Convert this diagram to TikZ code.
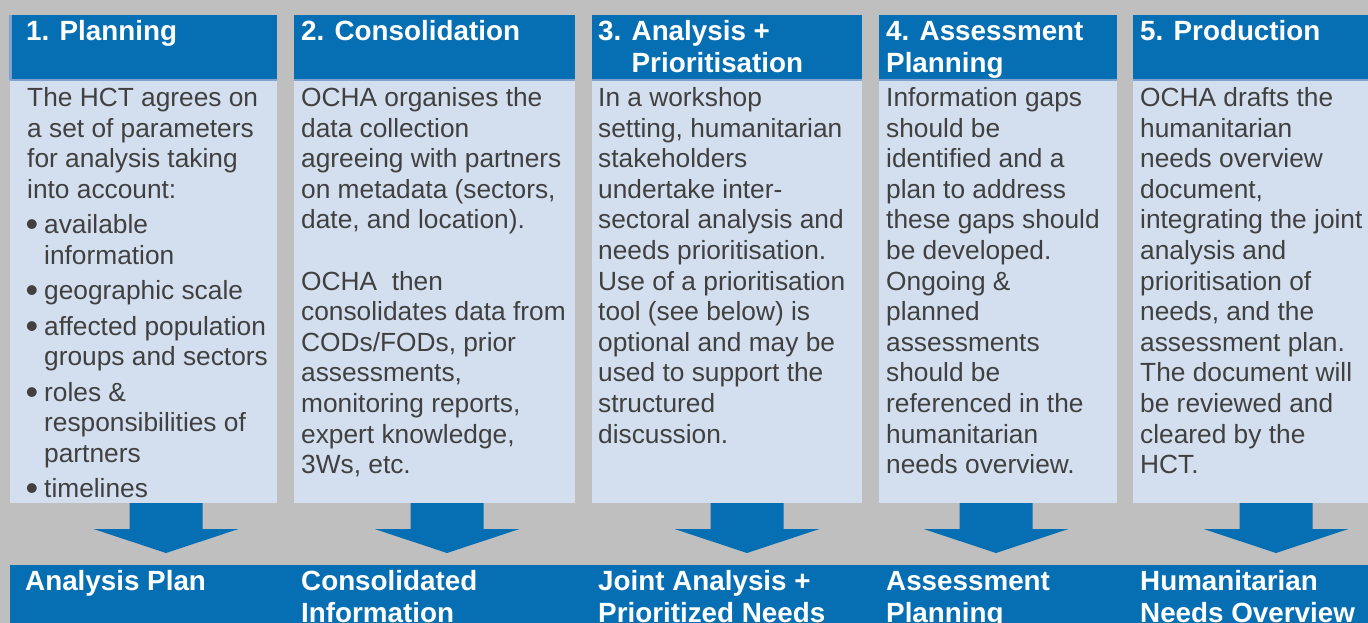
\documentclass[tikz,border=0pt]{standalone}
\usepackage{fontspec}
\setmainfont{Liberation Sans}
\usetikzlibrary{calc}
\usetikzlibrary{fit}
\usetikzlibrary{positioning}

\definecolor{ochablue}{HTML}{066FB4}
\definecolor{ochastripe}{HTML}{7FA3D0}
\definecolor{ochapale}{HTML}{D3DFEF}
\definecolor{ochagray}{HTML}{BFBFBF}
\definecolor{ochatext}{HTML}{404040}

\newcommand\bul{\makebox[17pt][l]{\hspace*{-1.5pt}\raisebox{-3pt}{\fontsize{36}{30.6}\selectfont\textbullet}}}
\newcommand\ind{\hspace*{17pt}}
% downward block arrow hanging from a coordinate
\newcommand\flowarrow[1]{%
  \fill[arrowfill] ($(#1)+(-36.5,0)$) -- ++(73,0) -- ++(0,26) -- ++(36,0)
    -- ($(#1)+(0,50)$) -- ($(#1)+(-72.5,26)$) -- ++(36,0) -- cycle;}

\begin{document}
\begin{tikzpicture}
  [
    x=1pt, y=-1pt,
    align=left
  ]
    \tikzset{
        headbox/.style = {fill=ochablue, inner sep=0pt},
        bodybox/.style = {fill=ochapale, inner sep=0pt},
        stripe/.style = {draw=ochastripe, line width=2pt},
        arrowfill/.style = {fill=ochablue},
        % anchored at the baseline of the last line
        headtext/.style = {text=white, inner sep=0pt, anchor=base west,
                           font=\fontsize{27.8}{32}\selectfont\bfseries},
        bodytext/.style = {text=ochatext, inner sep=0pt, anchor=base west,
                           font=\fontsize{26.3}{30.6}\selectfont},
    }

    \useasboundingbox (0,0) rectangle (1368,623);
    \fill[ochagray] (0,0) rectangle (1368,623);

    % header boxes
    \node (planhead) [headbox, fit={(10,15) (277,80)}] {};
    \node (conshead) [headbox, fit={(294,15) (575,80)}] {};
    \node (anahead) [headbox, fit={(592,15) (862,80)}] {};
    \node (asshead) [headbox, fit={(879,15) (1117,80)}] {};
    \node (prodhead) [headbox, fit={(1133,15) (1368,80)}] {};
    \foreach \h in {planhead,conshead,anahead,asshead,prodhead}
        \draw[stripe] (\h.south west) -- (\h.south east);
    \draw[stripe, line width=3pt] ($(planhead.north west)+(0.5,0)$) -- ($(planhead.south west)+(0.5,0)$);

    % body boxes
    \node (planbody) [bodybox, fit={(10,81) (277,503)}] {};
    \node (consbody) [bodybox, fit={(294,81) (575,503)}] {};
    \node (anabody) [bodybox, fit={(592,81) (862,503)}] {};
    \node (assbody) [bodybox, fit={(879,81) (1117,503)}] {};
    \node (prodbody) [bodybox, fit={(1133,81) (1368,503)}] {};

    % output bar
    \node (outbar) [headbox, fit={(10,565) (1368,623)}] {};

    % header texts
    \node (planlabel) [headtext] at (26,41) {1. Planning};
    \node (conslabel) [headtext] at (301,41) {2. Consolidation};
    \node (analabel) [headtext] at (598,73) {3. Analysis +\\\hphantom{3. }Prioritisation};
    \node (asslabel) [headtext] at (886,73) {4. Assessment\\Planning};
    \node (prodlabel) [headtext] at (1140,41) {5. Production};

    % body texts
    \node (plantext) [bodytext] at (27,497.7) {The HCT agrees on\\a set of parameters\\for analysis taking\\into account:\\[4.8pt]
        \bul available\\\ind information\\[4.8pt]
        \bul geographic scale\\[4.8pt]
        \bul affected population\\\ind groups and sectors\\[4.8pt]
        \bul roles \&\\\ind responsibilities of\\\ind partners\\[4.8pt]
        \bul timelines};
    \node (constext) [bodytext] at (301,473.7) {OCHA organises the\\data collection\\agreeing with partners\\on metadata (sectors,\\date, and location).\\[30.6pt]
        OCHA\ \ then\\consolidates data from\\CODs/FODs, prior\\assessments,\\monitoring reports,\\expert knowledge,\\3Ws, etc.};
    \node (anatext) [bodytext] at (598,443.1) {In a workshop\\setting, humanitarian\\stakeholders\\undertake inter-\\sectoral analysis and\\needs prioritisation.\\
        Use of a prioritisation\\tool (see below) is\\optional and may be\\used to support the\\structured\\discussion.};
    \node (asstext) [bodytext] at (886,473.7) {Information gaps\\should be\\identified and a\\plan to address\\these gaps should\\be developed.\\
        Ongoing \&\\planned\\assessments\\should be\\referenced in the\\humanitarian\\needs overview.};
    \node (prodtext) [bodytext] at (1140,473.7) {OCHA drafts the\\humanitarian\\needs overview\\document,\\integrating the joint\\analysis and\\prioritisation of\\needs, and the\\assessment plan.\\
        The document will\\be reviewed and\\cleared by the\\HCT.};

    % arrows down to the outputs
    \coordinate (planarrow) at (166,503);
    \coordinate (consarrow) at (447,503);
    \coordinate (anaarrow) at (747,503);
    \coordinate (assarrow) at (996,503);
    \coordinate (prodarrow) at (1276,503);
    \foreach \a in {planarrow,consarrow,anaarrow,assarrow,prodarrow}{
        \flowarrow{\a}
    }

    % output texts
    \node (planout) [headtext] at (25,590) {Analysis Plan};
    \node (consout) [headtext] at (301,622) {Consolidated\\Information};
    \node (anaout) [headtext] at (598,622) {Joint Analysis +\\Prioritized Needs};
    \node (assout) [headtext] at (886,622) {Assessment\\Planning};
    \node (prodout) [headtext] at (1140,622) {Humanitarian\\Needs Overview};
\end{tikzpicture}
\end{document}
